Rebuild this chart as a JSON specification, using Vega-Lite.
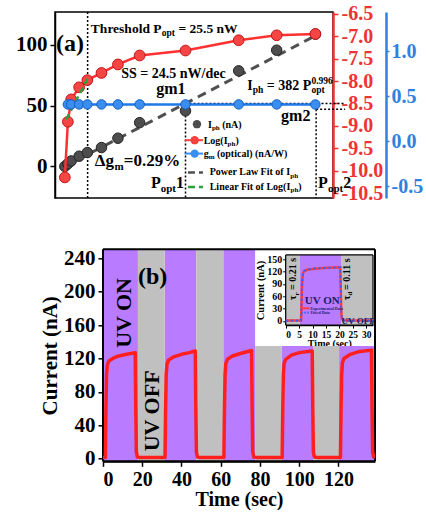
{
"$schema": "https://vega.github.io/schema/vega-lite/v6.json",
"padding": {"left": 14, "top": 3, "right": 0, "bottom": 0},
"background": "white",
"bounds": "flush",
"spacing": 51.3,
"resolve": {"scale": {"color": "independent"}},
"config": {
  "font": "Liberation Serif",
  "view": {"stroke": "black", "strokeWidth": 1.5},
  "axis": {"grid": false, "labelFont": "Liberation Serif", "titleFont": "Liberation Serif", "labelFontWeight": "bold", "titleFontWeight": "bold", "labelColor": "black", "titleColor": "black", "domainColor": "black", "tickColor": "black", "domainWidth": 1.5, "tickWidth": 1.5, "tickSize": 5, "labelPadding": 2, "zindex": 1},
  "text": {"font": "Liberation Serif", "fontWeight": "bold", "baseline": "alphabetic", "align": "left", "color": "black"}
},
"vconcat": [
{
  "width": 278, "height": 186,
  "resolve": {"scale": {"y": "independent"}, "axis": {"y": "independent"}},
  "layer": [
    {
      "encoding": {
        "x": {"field": "x", "type": "quantitative", "scale": {"domain": [-0.011, 0.3], "nice": false, "zero": false},
              "axis": {"orient": "bottom", "values": [0, 0.1, 0.2, 0.3], "format": ".1f", "labelFontSize": 21, "title": "Optical Power (μW)", "titleFontSize": 18, "titlePadding": 0}},
        "y": {"field": "y", "type": "quantitative", "scale": {"domain": [-26, 127], "nice": false, "zero": false},
              "axis": {"orient": "left", "values": [0, 50, 100], "labelFontSize": 21, "title": null, "labelPadding": 3}}
      },
      "layer": [
        {"data": {"values": [{"x": 0.0255, "y": -26, "y2": 127}, {"x": 0.135, "y": 51.7, "y2": -26}, {"x": 0.2811, "y": 47.1, "y2": -26}]},
         "mark": {"type": "rule", "color": "black", "strokeWidth": 1.5, "strokeDash": [2, 2]},
         "encoding": {"y2": {"field": "y2"}}},
        {"data": {"values": [{"x": 0.135, "x2": 0.3135, "y": 51.7}, {"x": 0.2811, "x2": 0.3135, "y": 47.1}]},
         "mark": {"type": "rule", "color": "black", "strokeWidth": 1.5, "strokeDash": [2, 2]},
         "encoding": {"x2": {"field": "x2"}}},
        {"data": {"values": [{"x": 0, "y": 0}, {"x": 0.2803, "y": 107.5}]},
         "mark": {"type": "line", "color": "#505050", "strokeWidth": 3, "strokeDash": [9, 6]},
         "encoding": {}},
        {"data": {"values": [
          {"x": 0, "y": 0}, {"x": 0.0034, "y": 2.2}, {"x": 0.0071, "y": 4.5}, {"x": 0.016, "y": 8.4}, {"x": 0.0252, "y": 11.4}, {"x": 0.041, "y": 15.5},
          {"x": 0.0594, "y": 23.2}, {"x": 0.0837, "y": 36.0}, {"x": 0.135, "y": 45.7}, {"x": 0.1945, "y": 78.6}, {"x": 0.237, "y": 95.6}, {"x": 0.2803, "y": 108.8}]},
         "mark": {"type": "circle", "size": 110, "color": "#4d4d4d", "stroke": "#222222", "strokeWidth": 1, "opacity": 1},
         "encoding": {}},
        {"data": {"values": [{"x": -0.0099, "y": 95.06, "t": "(a)"}]},
         "mark": {"type": "text", "fontSize": 24},
         "encoding": {"text": {"field": "t"}}},
        {"data": {"values": [{"x": 0.02912, "y": 109.9, "t": "Threshold P"}, {"x": 0.1271, "y": 109.9, "t": "= 25.5 nW"}]},
         "mark": {"type": "text", "fontSize": 13.5},
         "encoding": {"text": {"field": "t"}}},
        {"data": {"values": [{"x": 0.06305, "y": 72.6, "t": "SS = 24.5 nW/dec"}, {"x": 0.20414, "y": 62.96, "t": "I"}, {"x": 0.22598, "y": 62.96, "t": "= 382 P"}]},
         "mark": {"type": "text", "fontSize": 14},
         "encoding": {"text": {"field": "t"}}},
        {"data": {"values": [{"x": 0.10851, "y": 109.9, "t": "opt"}, {"x": 0.21025, "y": 62.96, "t": "ph"}, {"x": 0.27581, "y": 62.96, "t": "opt"}]},
         "mark": {"type": "text", "fontSize": 9.5, "dy": 3.5},
         "encoding": {"text": {"field": "t"}}},
        {"data": {"values": [{"x": 0.27581, "y": 62.96, "t": "0.996"}]},
         "mark": {"type": "text", "fontSize": 9.5, "dy": -5.5},
         "encoding": {"text": {"field": "t"}}},
        {"data": {"values": [{"x": 0.10224, "y": 59.4, "t": "gm1"}, {"x": 0.24188, "y": 37.4, "t": "gm2"}, {"x": 0.0963, "y": -17.7, "t": "P"}, {"x": 0.12441, "y": -17.7, "t": "1"}, {"x": 0.28331, "y": -17.7, "t": "P"}, {"x": 0.31142, "y": -17.7, "t": "2"}]},
         "mark": {"type": "text", "fontSize": 16},
         "encoding": {"text": {"field": "t"}}},
        {"data": {"values": [{"x": 0.03359, "y": 0.41, "t": "Δg"}, {"x": 0.06585, "y": 0.41, "t": "=0.29%"}]},
         "mark": {"type": "text", "fontSize": 17},
         "encoding": {"text": {"field": "t"}}},
        {"data": {"values": [{"x": 0.10728, "y": -17.7, "t": "opt"}, {"x": 0.29429, "y": -17.7, "t": "opt"}, {"x": 0.05554, "y": 0.41, "t": "m"}]},
         "mark": {"type": "text", "fontSize": 11, "dy": 4},
         "encoding": {"text": {"field": "t"}}},
        {"data": {"values": [
          {"x": 0.16013, "y": 31.93, "t": "I"}, {"x": 0.17604, "y": 31.93, "t": "(nA)"},
          {"x": 0.15532, "y": 18.77, "t": "Log(I"}, {"x": 0.19082, "y": 18.77, "t": ")"},
          {"x": 0.15532, "y": 7.82, "t": "g"}, {"x": 0.17021, "y": 7.82, "t": "(optical) (nA/W)"},
          {"x": 0.16204, "y": -7.24, "t": "Power Law Fit of I"},
          {"x": 0.16204, "y": -19.34, "t": "Linear Fit of Log(I"}, {"x": 0.26125, "y": -19.34, "t": ")"}]},
         "mark": {"type": "text", "fontSize": 10},
         "encoding": {"text": {"field": "t"}}},
        {"data": {"values": [{"x": 0.1645, "y": 31.93, "t": "ph"}, {"x": 0.18208, "y": 18.77, "t": "ph"}, {"x": 0.16092, "y": 7.82, "t": "m"}, {"x": 0.25218, "y": -7.24, "t": "ph"}, {"x": 0.25252, "y": -19.34, "t": "ph"}]},
         "mark": {"type": "text", "fontSize": 7, "dy": 2.5},
         "encoding": {"text": {"field": "t"}}},
        {"data": {"values": [{"x": 0.13404, "x2": 0.15453, "y": 21.56, "s": "Log"}, {"x": 0.13404, "x2": 0.15453, "y": 10.53, "s": "gm"}]},
         "mark": {"type": "rule", "strokeWidth": 2},
         "encoding": {"x2": {"field": "x2"}, "color": {"field": "s", "type": "nominal", "legend": null, "scale": {"domain": ["Iph", "Log", "gm", "fit", "lin"], "range": ["#4d4d4d", "#f54040", "#3a8ef0", "#505050", "#2ca03c"]}}}},
        {"data": {"values": [{"x": 0.13774, "x2": 0.15453, "y": -5.1, "s": "fit"}, {"x": 0.13774, "x2": 0.15453, "y": -16.87, "s": "lin"}]},
         "mark": {"type": "rule", "strokeWidth": 2.5, "strokeDash": [7, 4]},
         "encoding": {"x2": {"field": "x2"}, "color": {"field": "s", "type": "nominal", "legend": null, "scale": {"domain": ["Iph", "Log", "gm", "fit", "lin"], "range": ["#4d4d4d", "#f54040", "#3a8ef0", "#505050", "#2ca03c"]}}}},
        {"data": {"values": [{"x": 0.14782, "y": 34.73, "s": "Iph"}, {"x": 0.14524, "y": 21.56, "s": "Log"}, {"x": 0.14524, "y": 10.53, "s": "gm"}]},
         "mark": {"type": "circle", "size": 70, "opacity": 1},
         "encoding": {"color": {"field": "s", "type": "nominal", "legend": null, "scale": {"domain": ["Iph", "Log", "gm", "fit", "lin"], "range": ["#4d4d4d", "#f54040", "#3a8ef0", "#505050", "#2ca03c"]}}}}
      ]
    },
    {
      "encoding": {
        "x": {"field": "x", "type": "quantitative", "scale": {"domain": [-0.011, 0.3], "nice": false, "zero": false}, "axis": null},
        "y": {"field": "y", "type": "quantitative", "scale": {"domain": [-10.61, -6.46], "nice": false, "zero": false},
              "axis": {"orient": "right", "values": [-10.5, -10, -9.5, -9, -8.5, -8, -7.5, -7, -6.5], "labelExpr": "replace(format(datum.value, '.1f'), '−', '-')", "labelFontSize": 20, "labelColor": "#ee3333", "domainColor": "#ee3333", "tickColor": "#ee3333", "domainWidth": 2.5, "title": null, "labelPadding": 3}}
      },
      "layer": [
        {"data": {"values": [
          {"x": 0, "y": -10.15}, {"x": 0.0034, "y": -8.91}, {"x": 0.0071, "y": -8.41}, {"x": 0.016, "y": -8.14}, {"x": 0.0252, "y": -7.98}, {"x": 0.041, "y": -7.82},
          {"x": 0.0594, "y": -7.63}, {"x": 0.0837, "y": -7.43}, {"x": 0.135, "y": -7.32}, {"x": 0.1945, "y": -7.09}, {"x": 0.237, "y": -6.98}, {"x": 0.2803, "y": -6.95}]},
         "layer": [
           {"mark": {"type": "line", "color": "#ff3030", "strokeWidth": 2.5}, "encoding": {}},
           {"mark": {"type": "circle", "size": 115, "color": "#f54545", "stroke": "#c81414", "strokeWidth": 1, "opacity": 1}, "encoding": {}}
         ]},
        {"data": {"values": [{"x": 0.0015, "y": -8.86}, {"x": 0.0269, "y": -7.89}]},
         "mark": {"type": "line", "color": "#2ca03c", "strokeWidth": 2.5, "strokeDash": [6, 4]},
         "encoding": {}}
      ]
    },
    {
      "encoding": {
        "x": {"field": "x", "type": "quantitative", "scale": {"domain": [-0.011, 0.3], "nice": false, "zero": false}, "axis": null},
        "y": {"field": "y", "type": "quantitative", "scale": {"domain": [-0.63, 1.433], "nice": false, "zero": false},
              "axis": {"orient": "right", "offset": 53, "values": [-0.5, 0, 0.5, 1], "labelExpr": "replace(format(datum.value, '.1f'), '−', '-')", "labelFontSize": 20, "labelColor": "#2f80e0", "domainColor": "#2f80e0", "tickColor": "#2f80e0", "domainWidth": 2.5, "tickSize": 3, "title": null, "labelPadding": 2}}
      },
      "data": {"values": [
        {"x": 0.0034, "y": 0.408}, {"x": 0.0071, "y": 0.408}, {"x": 0.016, "y": 0.408}, {"x": 0.0252, "y": 0.408}, {"x": 0.041, "y": 0.408},
        {"x": 0.0594, "y": 0.408}, {"x": 0.0837, "y": 0.408}, {"x": 0.135, "y": 0.408}, {"x": 0.1945, "y": 0.408}, {"x": 0.237, "y": 0.408}, {"x": 0.2803, "y": 0.407}]},
      "layer": [
        {"mark": {"type": "line", "color": "#1e78e6", "strokeWidth": 2.5}, "encoding": {}},
        {"mark": {"type": "circle", "size": 90, "color": "#3a8ef0", "stroke": "#1560c0", "strokeWidth": 1, "opacity": 1}, "encoding": {}}
      ]
    }
  ]
},
{
  "width": 320, "height": 212,
  "view": {"stroke": null},
  "resolve": {"scale": {"x": "independent", "y": "independent"}, "axis": {"x": "independent", "y": "independent"}},
  "layer": [
    {
      "encoding": {
        "x": {"field": "x", "type": "quantitative", "scale": {"domain": [0, 138.6], "range": [48, 320], "nice": false, "zero": false},
              "axis": {"orient": "bottom", "values": [0, 20, 40, 60, 80, 100, 120], "labelFontSize": 20, "labelPadding": 3, "title": "Time (sec)", "titleFontSize": 20, "titlePadding": 0, "domainWidth": 2}},
        "y": {"field": "y", "type": "quantitative", "scale": {"domain": [-3.2, 250.8], "nice": false, "zero": false},
              "axis": {"orient": "left", "offset": -48, "values": [0, 40, 80, 120, 160, 200, 240], "labelFontSize": 21, "labelPadding": 3, "title": "Current (nA)", "titleFontSize": 21, "titlePadding": 3, "domainWidth": 2}}
      },
      "layer": [
        {"data": {"values": [
          {"x": 0, "x2": 17.8, "y": -3.2, "y2": 250.8}, {"x": 31.4, "x2": 47.5, "y": -3.2, "y2": 250.8}, {"x": 61.3, "x2": 77.5, "y": -3.2, "y2": 250.8},
          {"x": 91, "x2": 107.3, "y": -3.2, "y2": 134.8}, {"x": 120.3, "x2": 138.6, "y": -3.2, "y2": 134.8}]},
         "mark": {"type": "rect", "fill": "#b97bff", "opacity": 1},
         "encoding": {"x2": {"field": "x2"}, "y2": {"field": "y2"}}},
        {"data": {"values": [
          {"x": 17.8, "x2": 31.4, "y": -3.2, "y2": 250.8}, {"x": 47.5, "x2": 61.3, "y": -3.2, "y2": 250.8},
          {"x": 77.5, "x2": 91, "y": -3.2, "y2": 134.8}, {"x": 107.3, "x2": 120.3, "y": -3.2, "y2": 134.8}]},
         "mark": {"type": "rect", "fill": "#c0c0c0", "opacity": 1},
         "encoding": {"x2": {"field": "x2"}, "y2": {"field": "y2"}}},
        {"data": {"values": [{"x": 0, "x2": 138.6, "y": 250.8}, {"x": 0, "x2": 138.6, "y": -3.2}]},
         "mark": {"type": "rule", "color": "black", "strokeWidth": 2},
         "encoding": {"x2": {"field": "x2"}}},
        {"data": {"values": [{"x": 138.6, "y": -3.2, "y2": 250.8}, {"x": 0, "y": -3.2, "y2": 250.8}]},
         "mark": {"type": "rule", "color": "black", "strokeWidth": 2},
         "encoding": {"y2": {"field": "y2"}}},
        {"data": {"values": [
          {"x": 0, "y": 1.5}, {"x": 1.2, "y": 1.5}, {"x": 1.5, "y": 60}, {"x": 1.8, "y": 100}, {"x": 2.2, "y": 112}, {"x": 3, "y": 117}, {"x": 5, "y": 120}, {"x": 8, "y": 123}, {"x": 12, "y": 125}, {"x": 16.4, "y": 127}, {"x": 16.7, "y": 60}, {"x": 17.0, "y": 8}, {"x": 17.5, "y": 2}, {"x": 18.5, "y": 1.5},
          {"x": 31.6, "y": 1.5}, {"x": 31.9, "y": 60}, {"x": 32.2, "y": 100}, {"x": 32.6, "y": 113}, {"x": 33.4, "y": 118}, {"x": 36, "y": 122}, {"x": 40, "y": 125}, {"x": 44, "y": 127}, {"x": 47.0, "y": 129}, {"x": 47.3, "y": 60}, {"x": 47.6, "y": 8}, {"x": 48.1, "y": 2}, {"x": 49, "y": 1.5},
          {"x": 61.6, "y": 1.5}, {"x": 61.9, "y": 60}, {"x": 62.2, "y": 100}, {"x": 62.6, "y": 114}, {"x": 63.4, "y": 119}, {"x": 66, "y": 123}, {"x": 70, "y": 126}, {"x": 75.7, "y": 129.5}, {"x": 76.0, "y": 60}, {"x": 76.3, "y": 8}, {"x": 76.8, "y": 2}, {"x": 78, "y": 1.5},
          {"x": 91.3, "y": 1.5}, {"x": 91.6, "y": 60}, {"x": 91.9, "y": 100}, {"x": 92.3, "y": 114}, {"x": 93.1, "y": 119}, {"x": 96, "y": 124}, {"x": 100, "y": 127}, {"x": 106.6, "y": 129}, {"x": 106.9, "y": 60}, {"x": 107.2, "y": 8}, {"x": 107.7, "y": 2}, {"x": 109, "y": 1.5},
          {"x": 121.0, "y": 1.5}, {"x": 121.3, "y": 60}, {"x": 121.6, "y": 100}, {"x": 122.0, "y": 115}, {"x": 122.8, "y": 120}, {"x": 126, "y": 125}, {"x": 130, "y": 128}, {"x": 136.8, "y": 130}, {"x": 137.1, "y": 60}, {"x": 137.4, "y": 8}, {"x": 137.9, "y": 2}, {"x": 138.6, "y": 1.5}]},
         "mark": {"type": "line", "color": "#ff1f1f", "strokeWidth": 3.5, "strokeJoin": "round"},
         "encoding": {}},
        {"data": {"values": [{"x": 17.8, "y": 208.8, "t": "(b)"}]},
         "mark": {"type": "text", "fontSize": 24},
         "encoding": {"text": {"field": "t"}}},
        {"data": {"values": [{"x": 14.26, "y": 132.7, "t": "UV ON"}, {"x": 28.5, "y": 8.8, "t": "UV OFF"}]},
         "mark": {"type": "text", "fontSize": 22, "angle": 270},
         "encoding": {"text": {"field": "t"}}}
      ]
    },
    {
      "encoding": {
        "x": {"field": "x", "type": "quantitative", "scale": {"domain": [0, 32.5], "range": [230.7, 318], "nice": false, "zero": false},
              "axis": {"orient": "bottom", "offset": -136.2, "values": [0, 5, 10, 15, 20, 25, 30], "labelFontSize": 9.5, "tickSize": 3, "tickWidth": 1, "labelPadding": 1, "title": "Time (sec)", "titleFontSize": 10, "titlePadding": 0, "domainWidth": 1.2}},
        "y": {"field": "y", "type": "quantitative", "scale": {"domain": [-10, 160], "range": [75.8, 5.6], "nice": false, "zero": false},
              "axis": {"orient": "left", "offset": -230.7, "values": [0, 30, 60, 90, 120, 150], "labelFontSize": 10, "tickSize": 3, "tickWidth": 1, "labelPadding": 1, "title": "Current (nA)", "titleFontSize": 10.5, "titlePadding": 1, "domainWidth": 1.2}}
      },
      "layer": [
        {"data": {"values": [{"x": 0, "x2": 5.2, "y": -10, "y2": 160}, {"x": 20.7, "x2": 32.5, "y": -10, "y2": 160}]},
         "mark": {"type": "rect", "fill": "#c0c0c0", "opacity": 1},
         "encoding": {"x2": {"field": "x2"}, "y2": {"field": "y2"}}},
        {"data": {"values": [{"x": 5.2, "x2": 20.7, "y": -10, "y2": 160}]},
         "mark": {"type": "rect", "fill": "#b97bff", "opacity": 1},
         "encoding": {"x2": {"field": "x2"}, "y2": {"field": "y2"}}},
        {"data": {"values": [{"x": 0, "x2": 32.5, "y": 160}, {"x": 0, "x2": 32.5, "y": -10}]},
         "mark": {"type": "rule", "color": "black", "strokeWidth": 1.2},
         "encoding": {"x2": {"field": "x2"}}},
        {"data": {"values": [{"x": 32.5, "y": -10, "y2": 160}, {"x": 0, "y": -10, "y2": 160}]},
         "mark": {"type": "rule", "color": "black", "strokeWidth": 1.2},
         "encoding": {"y2": {"field": "y2"}}},
        {"data": {"values": [
          {"x": 0, "y": 1}, {"x": 5.7, "y": 1}, {"x": 5.9, "y": 40}, {"x": 6.1, "y": 90}, {"x": 6.4, "y": 115}, {"x": 6.9, "y": 121}, {"x": 8, "y": 124}, {"x": 10, "y": 126}, {"x": 14, "y": 128}, {"x": 20.3, "y": 130}, {"x": 20.5, "y": 80}, {"x": 20.7, "y": 20}, {"x": 21, "y": 4}, {"x": 21.5, "y": 1}, {"x": 32.5, "y": 1}]},
         "mark": {"type": "line", "color": "#ff3b3b", "strokeWidth": 2.5},
         "encoding": {}},
        {"data": {"values": [
          {"x": 0, "y": 0.5}, {"x": 5.7, "y": 0.5}, {"x": 5.9, "y": 42}, {"x": 6.1, "y": 92}, {"x": 6.4, "y": 116}, {"x": 6.9, "y": 121.5}, {"x": 8, "y": 124.5}, {"x": 10, "y": 126.5}, {"x": 14, "y": 128.3}, {"x": 20.3, "y": 130}, {"x": 20.5, "y": 78}, {"x": 20.7, "y": 18}, {"x": 21, "y": 3}, {"x": 21.5, "y": 0.5}, {"x": 32.5, "y": 0.5}]},
         "mark": {"type": "line", "color": "#3a5cff", "strokeWidth": 1.8, "strokeDash": [2.5, 2.5]},
         "encoding": {}},
        {"data": {"values": [{"x": 5.8, "x2": 8.9, "y": 30.7}]},
         "mark": {"type": "rule", "color": "#ff3b3b", "strokeWidth": 2},
         "encoding": {"x2": {"field": "x2"}}},
        {"data": {"values": [{"x": 5.8, "x2": 8.9, "y": 20}]},
         "mark": {"type": "rule", "color": "#3a5cff", "strokeWidth": 1.8, "strokeDash": [1.5, 1.5]},
         "encoding": {"x2": {"field": "x2"}}},
        {"data": {"values": [{"x": 9.2, "y": 27.5, "t": "Experimental Data"}, {"x": 9.2, "y": 17, "t": "Fitted Data"}]},
         "mark": {"type": "text", "fontSize": 4, "color": "#1c1c6b"},
         "encoding": {"text": {"field": "t"}}},
        {"data": {"values": [{"x": 3.84, "y": 50.8, "t": "τ"}, {"x": 3.84, "y": 75.3, "t": "= 0.21 s"}, {"x": 23.9, "y": 50.8, "t": "τ"}, {"x": 23.9, "y": 75.3, "t": "= 0.11 s"}]},
         "mark": {"type": "text", "fontSize": 10, "angle": 270},
         "encoding": {"text": {"field": "t"}}},
        {"data": {"values": [{"x": 3.84, "y": 61.7, "t": "r"}, {"x": 23.9, "y": 61.7, "t": "d"}]},
         "mark": {"type": "text", "fontSize": 7, "angle": 270, "dy": 2.5},
         "encoding": {"text": {"field": "t"}}},
        {"data": {"values": [{"x": 7.07, "y": 41, "t": "UV ON"}]},
         "mark": {"type": "text", "fontSize": 11, "color": "#1c1c6b"},
         "encoding": {"text": {"field": "t"}}},
        {"data": {"values": [{"x": 20.8, "y": -7.3, "t": "UV OFF"}]},
         "mark": {"type": "text", "fontSize": 9, "color": "#1c1c6b"},
         "encoding": {"text": {"field": "t"}}}
      ]
    }
  ]
}
]
}
